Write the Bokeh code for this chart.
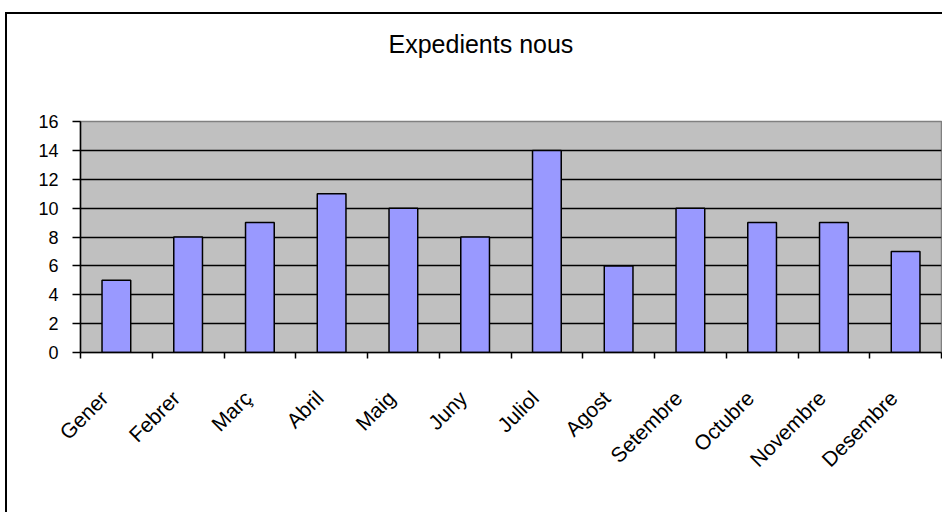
import math
from bokeh.plotting import figure
from bokeh.models import (ColumnDataSource, FixedTicker, Range1d, CustomJSTickFormatter,
                          LinearAxis, Title)
from bokeh.embed import file_html
from bokeh.resources import INLINE

# ---- data ----
months = ["Gener", "Febrer", "Març", "Abril", "Maig", "Juny",
          "Juliol", "Agost", "Setembre", "Octubre", "Novembre", "Desembre"]
counts = [5, 8, 9, 11, 10, 8, 14, 6, 10, 9, 9, 7]
y_ticks = [0, 2, 4, 6, 8, 10, 12, 14, 16]
title_text = "Expedients nous"

FONT = "Liberation Sans"

# layout constants (pixels)
FRAME_W, FRAME_H = 861, 231
BORDER_L, BORDER_R, BORDER_T, BORDER_B = 73, 3, 107, 162
LABEL_SHIFT_PX = 12                 # rotated month labels sit slightly left of centre
TITLE_GAP_PX = 59                   # empty space between title and plot frame

n = len(months)
x_pos = [i + 0.5 for i in range(n)]
src = ColumnDataSource(dict(x=x_pos, top=counts, month=months))

p = figure(width=BORDER_L + FRAME_W + BORDER_R, height=BORDER_T + FRAME_H + BORDER_B,
           output_backend="svg", toolbar_location=None, title=None,
           x_range=Range1d(0, n), y_range=Range1d(y_ticks[0], y_ticks[-1]),
           min_border_left=BORDER_L, min_border_right=BORDER_R,
           min_border_top=BORDER_T, min_border_bottom=BORDER_B)

p.styles = {"position": "relative", "left": "5px", "top": "12px",
            "border-left": "2px solid black", "border-top": "2px solid black"}

p.background_fill_color = "#C0C0C0"
p.border_fill_color = "white"
p.outline_line_color = "#808080"
p.outline_line_width = 1.5

p.vbar(x="x", top="top", bottom=0, width=0.4, source=src,
       fill_color="#9999FF", line_color="black", line_width=1.5)

# grid
p.xgrid.visible = False
p.ygrid.ticker = FixedTicker(ticks=y_ticks[1:-1])
p.ygrid.grid_line_color = "black"
p.ygrid.grid_line_width = 1.5

# y axis
p.yaxis.ticker = FixedTicker(ticks=y_ticks)
p.yaxis.major_tick_out = 8
p.yaxis.major_tick_in = 0
p.yaxis.minor_tick_out = 0
p.yaxis.minor_tick_in = 0
p.yaxis.axis_line_width = 1.5
p.yaxis.major_tick_line_width = 1.5
p.yaxis.major_label_text_font = FONT
p.yaxis.major_label_text_font_size = "18px"
p.yaxis.major_label_text_color = "black"
p.yaxis.major_label_standoff = 14

# x axis: boundary ticks as minor ticks, month names as (invisible) major ticks
shift = LABEL_SHIFT_PX * n / FRAME_W
label_ticks = [x - shift for x in x_pos]
p.xaxis.ticker = FixedTicker(ticks=label_ticks, minor_ticks=list(range(n + 1)))
p.xaxis.formatter = CustomJSTickFormatter(args=dict(names=months),
                                          code="return names[Math.floor(tick)];")
p.xaxis.major_tick_out = 0
p.xaxis.major_tick_in = 0
p.xaxis.minor_tick_out = 6
p.xaxis.minor_tick_in = 0
p.xaxis.minor_tick_line_width = 1.5
p.xaxis.axis_line_width = 1.5
p.xaxis.major_label_orientation = math.pi / 4
p.xaxis.major_label_text_font = FONT
p.xaxis.major_label_text_font_size = "21px"
p.xaxis.major_label_text_color = "black"
p.xaxis.major_label_standoff = 36

# invisible spacer axis directly above the frame, so the title sits higher
spacer = LinearAxis(ticker=FixedTicker(ticks=[0]), axis_line_color=None,
                    formatter=CustomJSTickFormatter(code="return '';"),
                    major_tick_out=TITLE_GAP_PX, major_tick_in=0,
                    minor_tick_out=0, minor_tick_in=0,
                    major_tick_line_color=None, minor_tick_line_color=None,
                    major_label_standoff=0, major_label_text_font_size="0px")
p.add_layout(spacer, "above")

# title, outside the spacer
title = Title(text=title_text, text_font=FONT, text_font_size="25px",
              text_font_style="normal", text_color="black",
              align="left", offset=308, standoff=10)
p.add_layout(title, "above")

open("out.html", "w").write(file_html(p, INLINE))
